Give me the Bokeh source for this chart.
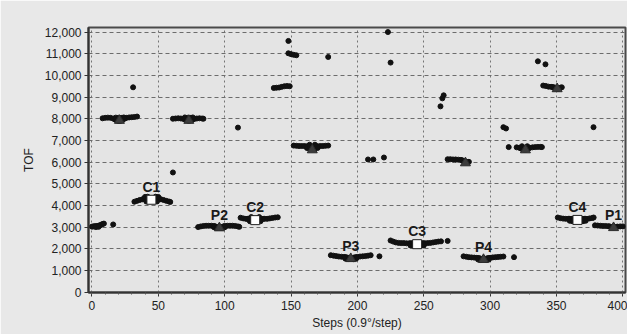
from bokeh.plotting import figure
from bokeh.models import FixedTicker, NumeralTickFormatter, Range1d
from bokeh.core.properties import value
from bokeh.embed import file_html
from bokeh.resources import INLINE

# ---- data (steps, TOF) ----
A_x = [0, 1, 2, 3, 4, 5, 6, 7, 8, 9, 3, 5]
A_y = [3020, 3030, 3040, 3040, 3050, 3060, 3080, 3110, 3140, 3160, 3000, 3010]

B_x = [8, 10, 12, 14, 16, 17, 18, 19, 20, 21, 22, 23, 24, 25, 26, 28, 30, 32, 34, 18, 20, 22, 24]
B_y = [8020, 8040, 8050, 8040, 8010, 7980, 7950, 7920, 7900, 7900, 7920, 7950, 7990, 8020, 8040, 8060, 8070, 8080, 8100, 8050, 8040, 8040, 8060]

C1_x = [32, 34, 36, 38, 39, 40, 41, 42, 43, 47, 48, 49, 50, 51, 52, 54, 56, 58, 59, 40, 42, 48, 50, 41, 49]
C1_y = [4170, 4210, 4250, 4280, 4290, 4300, 4300, 4300, 4300, 4300, 4300, 4300, 4300, 4290, 4280, 4250, 4210, 4180, 4160, 4390, 4400, 4400, 4390, 4180, 4180]

D_x = [61, 63, 65, 67, 69, 70, 71, 72, 73, 74, 75, 76, 77, 79, 81, 83, 84, 70, 72, 74, 76]
D_y = [8000, 8010, 8020, 8010, 7990, 7970, 7950, 7920, 7910, 7920, 7950, 7970, 7990, 8010, 8020, 8010, 8000, 8060, 8040, 8040, 8060]

P2_x = [80, 82, 84, 86, 88, 90, 92, 93, 94, 95, 96, 97, 98, 99, 100, 102, 104, 106, 108, 110, 111, 92, 94, 98, 100]
P2_y = [3000, 3030, 3050, 3060, 3060, 3060, 3050, 3030, 3000, 2980, 2970, 2980, 3000, 3030, 3050, 3060, 3060, 3060, 3050, 3030, 3010, 2990, 2960, 2960, 2990]

C2_x = [112, 114, 116, 117, 118, 119, 120, 121, 125, 126, 127, 128, 129, 130, 132, 134, 136, 138, 140, 119, 121, 125, 127, 120, 126]
C2_y = [3430, 3400, 3380, 3380, 3380, 3380, 3380, 3380, 3380, 3380, 3380, 3380, 3380, 3380, 3380, 3400, 3420, 3440, 3450, 3270, 3260, 3260, 3270, 3460, 3460]

E_x = [137, 139, 141, 143, 145, 147, 149]
E_y = [9420, 9430, 9440, 9470, 9500, 9510, 9500]

F_x = [148, 150, 152, 154]
F_y = [11020, 10980, 10950, 10930]

G_x = [152, 154, 156, 158, 160, 162, 163, 164, 165, 166, 167, 168, 169, 170, 172, 174, 176, 178, 162, 164, 168, 170, 164, 168]
G_y = [6760, 6750, 6740, 6740, 6740, 6730, 6720, 6700, 6680, 6670, 6680, 6700, 6720, 6730, 6740, 6740, 6750, 6760, 6650, 6620, 6620, 6650, 6800, 6800]

P3_x = [180, 182, 184, 186, 188, 190, 191, 192, 193, 194, 195, 196, 197, 198, 199, 200, 202, 204, 206, 208, 210, 191, 193, 197, 199]
P3_y = [1700, 1680, 1660, 1640, 1630, 1620, 1610, 1600, 1580, 1560, 1550, 1560, 1580, 1600, 1610, 1620, 1640, 1650, 1660, 1680, 1700, 1540, 1520, 1520, 1540]

C3_x = [225, 227, 229, 231, 233, 235, 237, 239, 240, 241, 242, 248, 249, 250, 251, 253, 255, 257, 259, 261, 263, 240, 242, 248, 250]
C3_y = [2380, 2330, 2290, 2270, 2260, 2260, 2250, 2250, 2250, 2250, 2250, 2250, 2250, 2250, 2250, 2260, 2270, 2290, 2310, 2330, 2340, 2150, 2140, 2140, 2150]

H_x = [268, 270, 272, 274, 276, 278, 279, 280, 281, 282, 283, 284]
H_y = [6130, 6130, 6120, 6120, 6110, 6100, 6080, 6050, 6020, 6000, 6000, 6010]

P4_x = [280, 282, 284, 286, 288, 290, 291, 292, 293, 294, 295, 296, 297, 298, 299, 300, 302, 304, 306, 308, 310, 291, 293, 297, 299]
P4_y = [1650, 1630, 1610, 1600, 1590, 1580, 1570, 1560, 1540, 1520, 1510, 1520, 1540, 1560, 1570, 1580, 1600, 1610, 1620, 1630, 1640, 1500, 1480, 1480, 1500]

I_x = [320, 322, 323, 324, 325, 326, 327, 328, 329, 330, 332, 334, 336, 338, 339, 324, 328]
I_y = [6680, 6660, 6640, 6610, 6590, 6580, 6580, 6600, 6630, 6660, 6680, 6690, 6700, 6700, 6690, 6730, 6730]

J_x = [340, 342, 344, 346, 347, 348, 349, 350, 351, 352, 353, 354]
J_y = [9530, 9510, 9480, 9470, 9460, 9450, 9430, 9400, 9390, 9400, 9430, 9450]

C4_x = [351, 353, 355, 357, 359, 360, 361, 362, 370, 371, 372, 373, 375, 377, 378, 360, 362, 370, 372]
C4_y = [3440, 3410, 3390, 3380, 3380, 3380, 3380, 3380, 3380, 3380, 3380, 3380, 3400, 3420, 3440, 3290, 3270, 3270, 3290]

P1_x = [379, 381, 383, 385, 387, 389, 390, 391, 392, 393, 394, 395, 396, 398, 400]
P1_y = [3080, 3070, 3060, 3050, 3050, 3040, 3030, 3010, 3000, 2990, 3000, 3010, 3020, 3030, 3030]

single_x = [16, 31, 61, 110, 148, 178, 216.6, 208, 212, 220, 223, 225, 268, 262.6, 264, 265, 318, 310, 312, 314, 336, 341.7, 377.9]
single_y = [3120, 9450, 5520, 7590, 11590, 10850, 1650, 6120, 6120, 6210, 12000, 10590, 2360, 8570, 8940, 9080, 1610, 7610, 7550, 6690, 10650, 10510, 7610]

square_x = [44.8, 123, 245, 365.8]
square_y = [4260, 3320, 2210, 3330]
square_names = ["C1", "C2", "C3", "C4"]

peak_x = [393, 96, 195, 295]
peak_y = [2970, 2960, 1540, 1500]
peak_names = ["P1", "P2", "P3", "P4"]

tri_x = [20.7, 73, 166, 281.4, 326.6, 350.5]
tri_y = [7920, 7920, 6560, 5960, 6560, 9380]

x_ticks = [0, 50, 100, 150, 200, 250, 300, 350, 400]
y_ticks = [0, 1000, 2000, 3000, 4000, 5000, 6000, 7000, 8000, 9000, 10000, 11000, 12000]

# ---- figure ----
FONT = "Liberation Sans"
p = figure(width=627, height=334, output_backend="svg", toolbar_location=None,
           x_range=Range1d(-2.6, 402), y_range=Range1d(-20, 12210),
           min_border_left=88, min_border_right=2, min_border_top=27, min_border_bottom=42)
p.background_fill_color = "#e4e4e4"
p.border_fill_color = "#e8e8e8"
p.outline_line_color = "#4a4a4a"
p.outline_line_width = 2

p.xaxis.ticker = FixedTicker(ticks=x_ticks, minor_ticks=list(range(0, 401, 10)))
p.yaxis.ticker = FixedTicker(ticks=y_ticks)
p.yaxis.formatter = NumeralTickFormatter(format="0,0")
p.xaxis.axis_label = "Steps (0.9°/step)"
p.yaxis.axis_label = "TOF"
for ax in (p.xaxis, p.yaxis):
    ax.axis_line_width = 2
    ax.axis_line_color = "#333333"
    ax.major_tick_line_color = "#333333"
    ax.minor_tick_line_color = "#555555"
    ax.major_tick_out = 4
    ax.major_tick_in = 0
    ax.minor_tick_out = 2
    ax.minor_tick_in = 0
    ax.major_label_text_font = FONT
    ax.major_label_text_font_size = "12px"
    ax.major_label_text_color = "#222222"
    ax.axis_label_text_font = FONT
    ax.axis_label_text_font_size = "12px"
    ax.axis_label_text_font_style = "normal"
    ax.axis_label_text_color = "#222222"
p.yaxis.minor_tick_line_color = None
p.yaxis.major_label_standoff = 3
p.xaxis.major_label_standoff = 4
p.yaxis.axis_label_standoff = 6
p.xaxis.axis_label_standoff = 3

p.xgrid.ticker = FixedTicker(ticks=x_ticks)
p.ygrid.ticker = FixedTicker(ticks=y_ticks)
p.xgrid.grid_line_color = "#747474"
p.xgrid.grid_line_dash = "2 3"
p.ygrid.grid_line_color = "#6c6c6c"
p.ygrid.grid_line_dash = "4 3"

all_x = A_x + B_x + C1_x + D_x + P2_x + C2_x + E_x + F_x + G_x + P3_x + C3_x + H_x + P4_x + I_x + J_x + C4_x + P1_x + single_x
all_y = A_y + B_y + C1_y + D_y + P2_y + C2_y + E_y + F_y + G_y + P3_y + C3_y + H_y + P4_y + I_y + J_y + C4_y + P1_y + single_y
p.scatter(all_x, all_y, size=5, marker="circle", fill_color="#111111", line_color="#111111")

p.scatter(tri_x + peak_x, tri_y + peak_y, marker="triangle", size=10,
          fill_color="#3c3c3c", line_color="#2a2a2a")
p.scatter(square_x, square_y, marker="square", size=9, fill_color="white", line_color="#222222", line_width=1)

p.text(square_x + peak_x, square_y + peak_y, text=square_names + peak_names,
       y_offset=-13, text_align="center", text_baseline="middle",
       text_font=value(FONT), text_font_size="14px", text_font_style="bold",
       text_color="#1a1a1a")

open("out.html", "w").write(file_html(p, INLINE))
